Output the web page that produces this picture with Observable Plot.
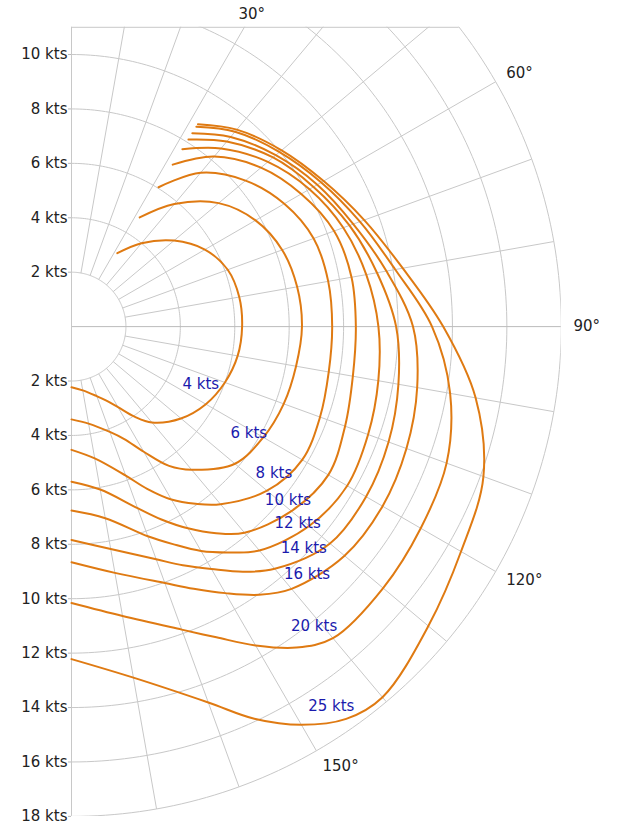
<!DOCTYPE html>
<html>
<head>
<meta charset="utf-8">
<script src="https://cdn.jsdelivr.net/npm/d3@7"></script>
<script src="https://cdn.jsdelivr.net/npm/@observablehq/plot@0.6"></script>
<style>
  body { margin: 0; background: #fff; }
  svg { display: block; }
</style>
</head>
<body>
<div id="chart"></div>
<script>
// ---- data (true wind angle in degrees, boat speed in knots) ----
const windSpeeds = [4, 6, 8, 10, 12, 14, 16, 20, 25];
const angles = [32, 40, 50, 60, 70, 80, 90, 100, 110, 120, 130, 140, 145, 150, 155, 160, 170, 180];
const speed4  = [3.18, 4.0, 4.92, 5.66, 6.11, 6.26, 6.27, 6.2, 6.0, 5.7, 5.25, 4.6, 4.04, 3.42, 2.99, 2.72, 2.38, 2.23];
const speed6  = [4.73, 5.88, 7.06, 7.81, 8.24, 8.42, 8.47, 8.38, 8.30, 8.14, 7.84, 6.87, 6.25, 5.31, 4.55, 4.12, 3.62, 3.41];
const speed8  = [6.04, 7.38, 8.35, 9.03, 9.47, 9.58, 9.58, 9.60, 9.72, 9.79, 9.38, 8.52, 7.95, 7.34, 6.58, 5.83, 4.92, 4.53];
const speed10 = [7.02, 8.16, 9.09, 9.75, 10.27, 10.45, 10.45, 10.5, 10.7, 10.9, 10.55, 9.89, 9.27, 8.56, 7.82, 7.10, 6.08, 5.70];
const speed12 = [7.69, 8.55, 9.42, 10.1, 10.63, 11.0, 11.28, 11.45, 11.6, 11.7, 11.4, 10.74, 10.13, 9.52, 8.82, 8.2, 7.15, 6.76];
const speed14 = [8.11, 8.88, 9.67, 10.27, 10.87, 11.4, 11.93, 12.2, 12.4, 12.5, 12.4, 11.62, 11.0, 10.29, 9.68, 9.1, 8.3, 7.84];
const speed16 = [8.38, 9.1, 9.8, 10.43, 11.02, 11.75, 12.55, 12.9, 13.1, 13.2, 13.1, 12.58, 12.03, 11.31, 10.63, 10.03, 9.19, 8.66];
const speed20 = [8.66, 9.35, 9.98, 10.6, 11.28, 12.08, 13.25, 14.13, 14.67, 14.82, 14.95, 14.95, 14.4, 13.53, 12.6, 11.85, 10.8, 10.16];
const speed25 = [8.77, 9.45, 10.08, 10.7, 11.45, 12.36, 13.66, 15.08, 16.11, 16.53, 17.12, 17.78, 17.6, 16.9, 15.9, 14.7, 13.1, 12.22];
// where each curve's label sits (angle, speed)
const labelAngles = [111.2, 118.5, 123.5, 125.9, 128.2, 130.9, 133.8, 138.4, 143.3];
const labelSpeeds = [5.82, 8.18, 9.73, 10.87, 11.66, 12.42, 13.17, 14.71, 17.4];
// grid
const ringSpeeds = [2, 4, 6, 8, 10, 12, 14, 16, 18];
const spokeAngles = [10, 20, 30, 40, 50, 60, 70, 80, 100, 110, 120, 130, 140, 150, 160, 170];
const angleTicks = [30, 60, 90, 120, 150];
const speedTicks = [-18, -16, -14, -12, -10, -8, -6, -4, -2, 2, 4, 6, 8, 10];

// ---- polar helpers ----
const rad = d => d * Math.PI / 180;
const polar = (deg, r) => ({x: r * Math.sin(rad(deg)), y: r * Math.cos(rad(deg))});

const seriesValues = [speed4, speed6, speed8, speed10, speed12, speed14, speed16, speed20, speed25];
const curvePoints = windSpeeds.flatMap((w, i) =>
  angles.map((a, j) => ({wind: w, ...polar(a, seriesValues[i][j])})));

const labels = windSpeeds.map((w, i) => ({wind: w, ...polar(labelAngles[i], labelSpeeds[i])}));

const rMax = 18, yTop = 11;
const ringPts = ringSpeeds.flatMap(r => d3.range(0, 180.5, 1).map(a => ({r, ...polar(a, r)})));
const spokes = spokeAngles.map(a => ({a, p1: polar(a, 2), p2: polar(a, rMax)}));

// angle labels: just outside the outer ring; the one that would leave the top is pinned above the frame
const labelR = 18.45, topLimit = 11.47;
const angleLabels = angleTicks.map(a => {
  const p = polar(a, labelR);
  if (p.y > topLimit) return {a, pinned: true, ...polar(a, topLimit / Math.cos(rad(a)))};
  return {a, pinned: false, x: p.x, y: p.y + 0.2 * Math.cos(rad(a))};
});

const k = 27.21;
const W = 617, H = 825, mL = 71, mT = 26.8;
const mR = W - mL - rMax * k;
const mB = H - mT - (yTop + rMax) * k;

const grid = "#c8c8c8";

const chart = Plot.plot({
  width: W, height: H,
  marginLeft: mL, marginRight: mR, marginTop: mT, marginBottom: mB,
  style: {fontFamily: "DejaVu Sans, Verdana, sans-serif", fontSize: "15px", color: "#222", background: "#fff"},
  x: {domain: [0, rMax], axis: null},
  y: {domain: [-rMax, yTop]},
  marks: [
    Plot.line(ringPts, {x: "x", y: "y", z: "r", stroke: grid, strokeWidth: 1, clip: true}),
    Plot.link(spokes, {x1: d => d.p1.x, y1: d => d.p1.y, x2: d => d.p2.x, y2: d => d.p2.y, stroke: grid, strokeWidth: 1, clip: true}),
    Plot.ruleY([0], {x1: 0, x2: rMax, stroke: "#bbb"}),
    Plot.ruleY([yTop], {x1: 0, x2: Math.sqrt(rMax * rMax - yTop * yTop), stroke: grid}),
    Plot.ruleX([0], {y1: -rMax, y2: yTop, stroke: grid}),
    Plot.axisY(speedTicks, {tickFormat: d => Math.abs(d) + " kts", tickSize: 3, tickPadding: 1, stroke: "#bbb", fill: "#222", label: null, fontSize: 15}),
    Plot.line(curvePoints, {x: "x", y: "y", z: "wind", stroke: "#df7a12", strokeWidth: 2, curve: "catmull-rom"}),
    Plot.text(labels, {x: "x", y: "y", text: d => d.wind + " kts", textAnchor: "end", fill: "#1a1aad", fontSize: 15}),
    Plot.text(angleLabels.filter(d => !d.pinned), {x: "x", y: "y", text: d => d.a + "°", textAnchor: "start", fill: "#222", fontSize: 15}),
    Plot.text(angleLabels.filter(d => d.pinned), {x: "x", y: "y", text: d => d.a + "°", textAnchor: "middle", fill: "#222", fontSize: 15})
  ]
});
document.getElementById("chart").appendChild(chart);
</script>
</body>
</html>
